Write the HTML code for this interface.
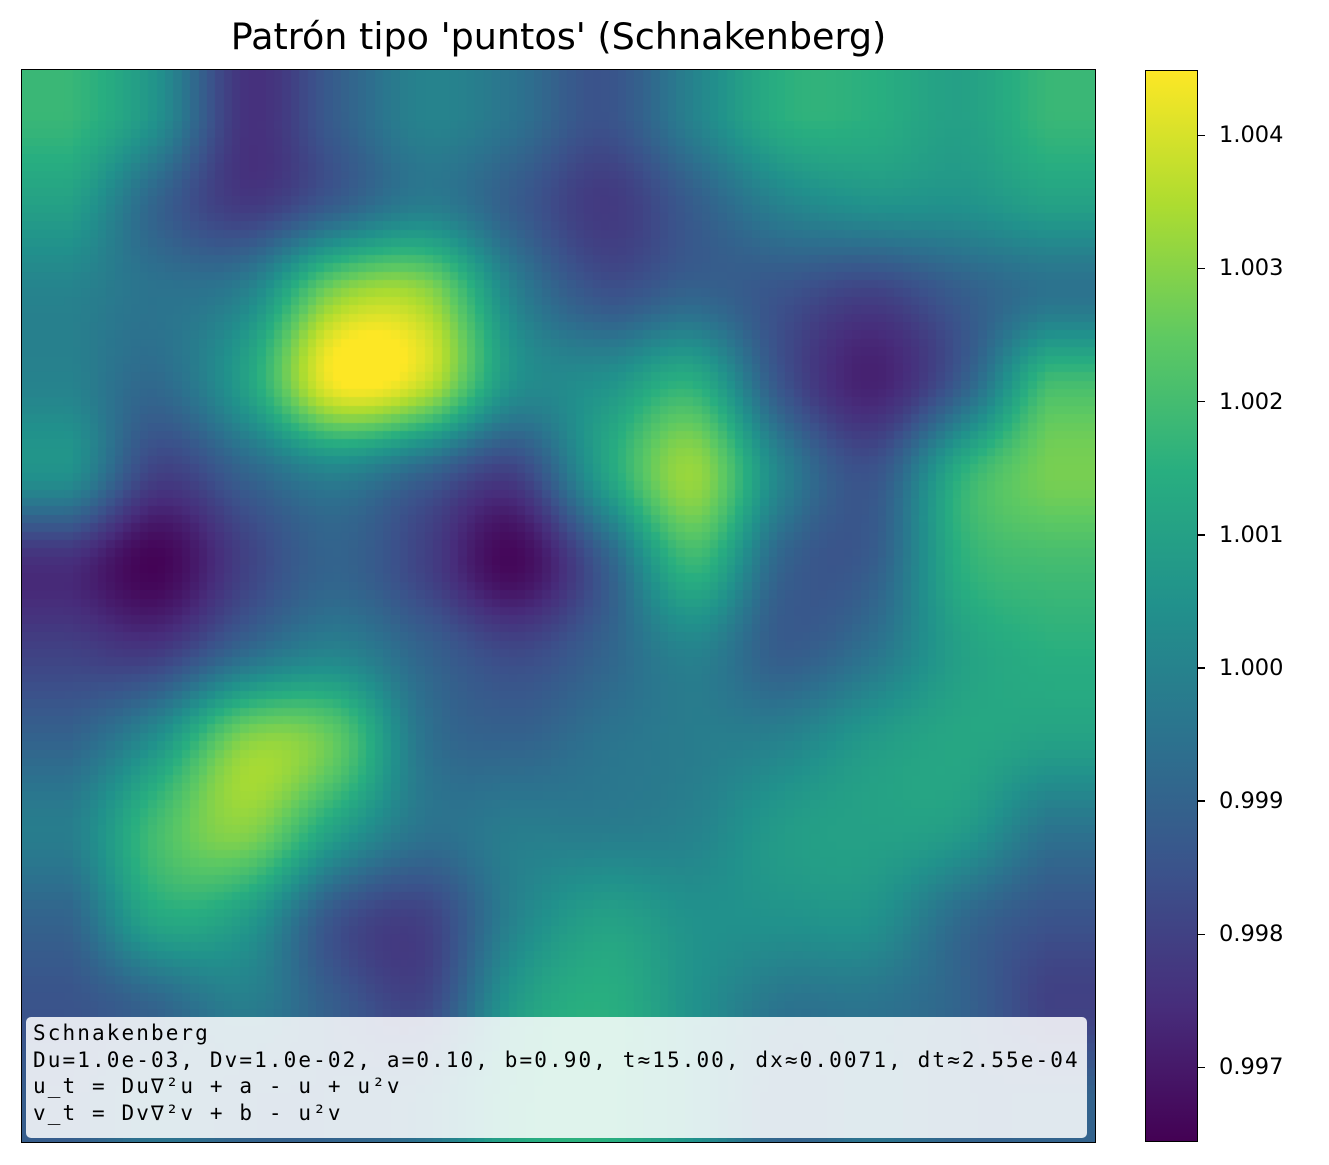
<!DOCTYPE html>
<html><head><meta charset="utf-8">
<style>
body{margin:0;background:#fff;width:1329px;height:1165px;position:relative;overflow:hidden;font-family:"DejaVu Sans","Liberation Sans",sans-serif;}
#title{position:absolute;left:0;width:1117px;top:15px;text-align:center;font-size:36.5px;color:#000;}
#plot{position:absolute;left:22px;top:70px;width:1073px;height:1072px;}
#frame{position:absolute;left:21px;top:69px;width:1073px;height:1072px;border:1.5px solid #000;}
#cbar{position:absolute;left:1145px;top:70px;width:53px;height:1072px;border:1.5px solid #000;box-sizing:border-box;}
.tk{position:absolute;left:1198px;width:7px;height:1.5px;background:#000;}
.tl{position:absolute;left:1219px;font-size:22.5px;transform:translateY(-50%);}
#info{position:absolute;left:26px;top:1017px;width:1061px;height:121px;background:rgba(255,255,255,0.85);border-radius:5px;font-family:"DejaVu Sans Mono","Liberation Mono",monospace;font-size:21px;letter-spacing:2.1px;line-height:26.5px;padding:3px 7px;box-sizing:border-box;white-space:pre;color:#000;}
</style></head><body>
<div id="title">Patrón tipo 'puntos' (Schnakenberg)</div>
<canvas id="plot" width="1073" height="1072"></canvas>
<div id="frame"></div>
<div id="cbar"></div>
<div id="info">Schnakenberg
Du=1.0e-03, Dv=1.0e-02, a=0.10, b=0.90, t≈15.00, dx≈0.0071, dt≈2.55e-04
u_t = Du∇²u + a - u + u²v
v_t = Dv∇²v + b - u²v</div>
<script>
const vmin = 0.99644, vmax = 1.00449;
const tickValues = [0.997,0.998,0.999,1.000,1.001,1.002,1.003,1.004];
const tickLabels = ["0.997","0.998","0.999","1.000","1.001","1.002","1.003","1.004"];
const row0 = [1.0018,1.0005,0.9976,0.9988,1.0,0.9995,0.9985,1.0,1.0015,1.0015,1.001,1.0018];
const row1 = [1.001,0.999,0.9978,0.9988,0.9998,0.9988,0.9978,0.9988,1.0,1.0005,1.0005,1.001];
const row2 = [1.0,0.9995,1.0,1.003,1.0032,1.0,0.9985,0.999,0.9985,0.998,0.9988,0.9995];
const row3 = [1.0,0.9992,1.001,1.0044,1.0038,1.0005,1.0005,1.0015,0.9985,0.9972,0.9988,1.002];
const row4 = [1.0005,0.998,0.999,1.0,0.999,0.998,1.001,1.0032,1.0,0.9985,1.0015,1.0028];
const row5 = [0.9975,0.9965,0.998,0.999,0.998,0.9966,0.9988,1.0018,0.999,0.9988,1.0015,1.002];
const row6 = [0.998,0.9978,0.9992,1.0,0.999,0.9982,0.999,1.0,0.9988,0.9995,1.001,1.0015];
const row7 = [0.999,1.0005,1.003,1.0025,0.9995,0.999,0.9995,0.9998,1.0,1.0008,1.0012,1.001];
const row8 = [0.9998,1.002,1.003,1.001,0.9995,0.9998,0.9998,1.0,1.0008,1.001,1.0008,0.9995];
const row9 = [0.999,1.0012,1.0008,0.9985,0.998,1.0,1.001,1.0005,1.0005,1.0005,0.9992,0.9985];
const row10 = [0.9985,0.999,0.9998,0.9988,0.9982,1.0008,1.0015,1.0005,0.9995,0.9995,0.999,0.998];
const row11 = [0.9988,0.9995,0.999,0.999,0.9995,1.0012,1.0015,1.0005,0.999,0.9995,0.999,0.999];
const grid = [row0,row1,row2,row3,row4,row5,row6,row7,row8,row9,row10,row11];

const stops=[[68,1,84],[71,45,123],[59,82,139],[44,114,142],[33,145,140],[40,174,128],[94,201,98],[173,220,48],[253,231,37]];
function cmap(v){let t=(v-vmin)/(vmax-vmin);t=Math.max(0,Math.min(1,t))*(stops.length-1);const i=Math.min(stops.length-2,Math.floor(t));const f=t-i;return stops[i].map((c,k)=>Math.round(c+(stops[i+1][k]-c)*f));}
const cv=document.getElementById('plot'),ctx=cv.getContext('2d');
const W=cv.width,H=cv.height,R=grid.length,C=grid[0].length;
const img=ctx.createImageData(W,H);
const N=128,cell=W/N;
function g(r,c){r=Math.max(0,Math.min(R-1,r));c=Math.max(0,Math.min(C-1,c));return grid[r][c];}
function cr(p0,p1,p2,p3,t){return p1+0.5*t*(p2-p0+t*(2*p0-5*p1+4*p2-p3+t*(3*(p1-p2)+p3-p0)));}
function sample(gx,gy){gx=Math.max(0,Math.min(C-1,gx));gy=Math.max(0,Math.min(R-1,gy));
const x0=Math.floor(gx),y0=Math.floor(gy),fx=gx-x0,fy=gy-y0;const rows=[];
for(let k=-1;k<=2;k++){rows.push(cr(g(y0+k,x0-1),g(y0+k,x0),g(y0+k,x0+1),g(y0+k,x0+2),fx));}
return cr(rows[0],rows[1],rows[2],rows[3],fy);}
const lut=[];for(let j=0;j<N;j++){lut[j]=[];for(let i=0;i<N;i++){lut[j][i]=cmap(sample((i+0.5)/N*C-0.5,(j+0.5)/N*R-0.5));}}
for(let y=0;y<H;y++){const j=Math.min(N-1,Math.floor(y/cell));for(let x=0;x<W;x++){const i=Math.min(N-1,Math.floor(x/cell));const c=lut[j][i];const p=(y*W+x)*4;img.data[p]=c[0];img.data[p+1]=c[1];img.data[p+2]=c[2];img.data[p+3]=255;}}
ctx.putImageData(img,0,0);

const cb=document.getElementById('cbar');
cb.style.background='linear-gradient(to top,'+stops.map((s,i)=>`rgb(${s})`+' '+(i/(stops.length-1)*100)+'%').join(',')+')';
const cbTop=70,cbH=1072;
function cy(v){return cbTop+cbH*(vmax-v)/(vmax-vmin);}
tickValues.forEach((v,k)=>{
 const t=document.createElement('div');t.className='tk';t.style.top=(cy(v)-0.75)+'px';
 
 
 document.body.appendChild(t);
 const l=document.createElement('div');l.className='tl';l.style.top=cy(v)+'px';l.textContent=tickLabels[k];
 
 
 document.body.appendChild(l);
});
</script>
</body></html>
